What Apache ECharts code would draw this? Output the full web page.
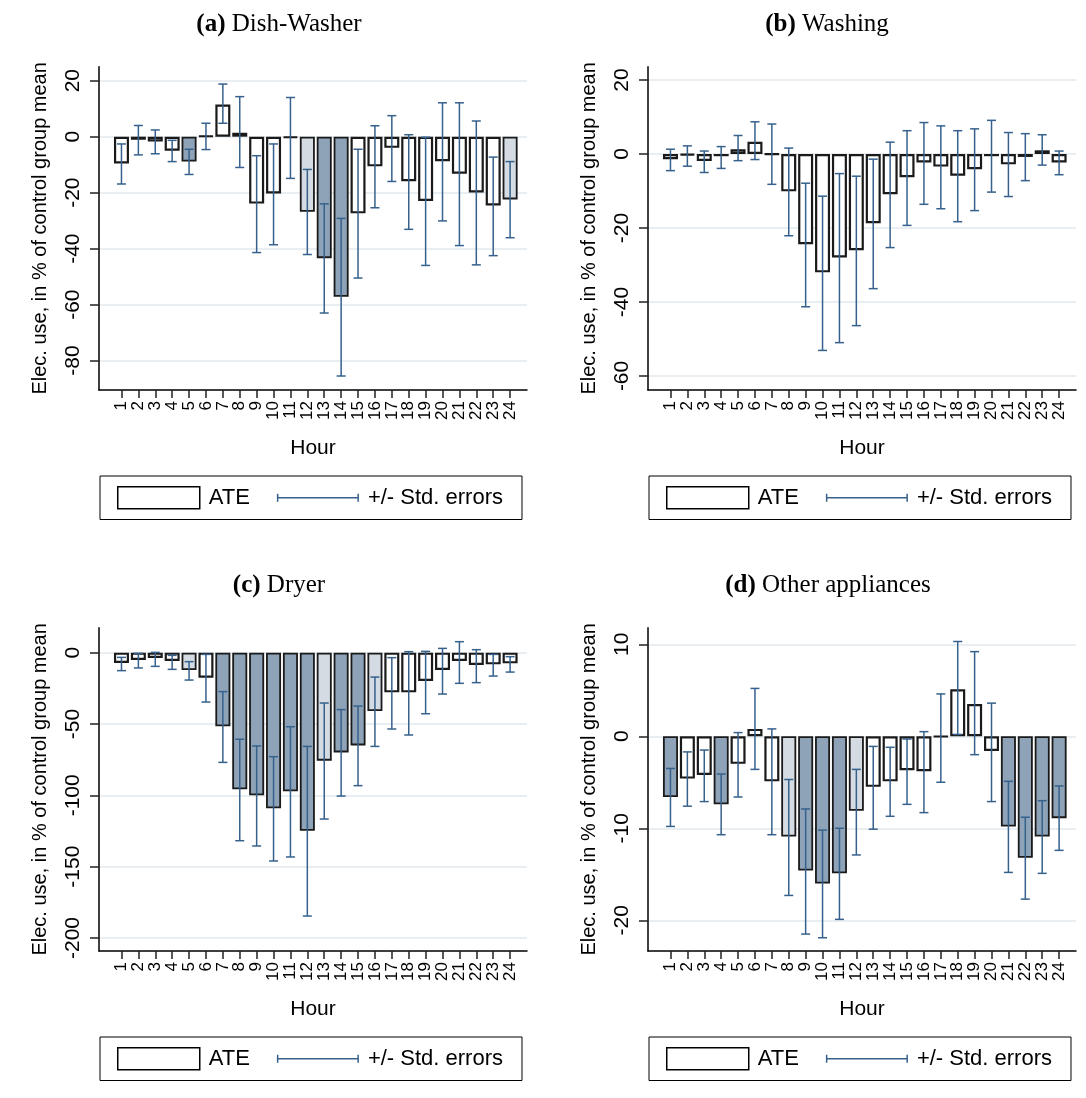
<!DOCTYPE html>
<html>
<head>
<meta charset="utf-8">
<script src="https://cdn.jsdelivr.net/npm/echarts@6/dist/echarts.min.js"></script>
<style>
html, body { margin: 0; padding: 0; background: #fff; }
#main { width: 1086px; height: 1098px; }
</style>
</head>
<body>
<div id="main"></div>
<script>
// hours on the x axis
var hours = [1, 2, 3, 4, 5, 6, 7, 8, 9, 10, 11, 12, 13, 14, 15, 16, 17, 18, 19, 20, 21, 22, 23, 24];
var panelTags = ['(a)', '(b)', '(c)', '(d)'];
var panelNames = ['Dish-Washer', 'Washing', 'Dryer', 'Other appliances'];

// (a) Dish-Washer
var ateA = [-9.6, -1.1, -1.7, -5.0, -8.9, 0.3, 11.5, 1.4, -23.9, -20.3, -0.4, -26.8, -43.4, -57.2, -27.4, -10.6, -4.0, -15.9, -23.0, -8.8, -13.2, -19.9, -24.6, -22.4];
var loA = [-16.9, -6.5, -6.1, -8.9, -13.5, -4.6, 4.8, -11.0, -41.4, -38.6, -14.9, -42.1, -63.0, -85.5, -50.5, -25.4, -16.0, -33.1, -46.0, -30.1, -38.9, -45.8, -42.5, -36.1];
var hiA = [-2.6, 4.0, 2.4, -1.3, -4.5, 4.8, 18.8, 14.3, -6.8, -2.6, 14.0, -11.7, -24.0, -29.2, -4.5, 3.9, 7.5, 0.7, -0.2, 12.1, 12.1, 5.6, -7.3, -8.9];
var sigA = [0, 0, 0, 0, 2, 0, 0, 0, 0, 0, 0, 1, 2, 2, 0, 0, 0, 0, 0, 0, 0, 0, 0, 1];
var yTicksA = [20, 0, -20, -40, -60, -80];

// (b) Washing
var ateB = [-1.4, -0.3, -1.9, -0.6, 1.3, 3.3, -0.1, -10.1, -24.4, -32.0, -28.0, -26.0, -18.7, -10.9, -6.3, -2.3, -3.4, -5.9, -4.1, -0.6, -2.8, -0.8, 1.0, -2.3];
var loB = [-4.5, -3.3, -5.0, -3.9, -1.8, -1.5, -8.2, -22.1, -41.3, -53.1, -51.0, -46.4, -36.4, -25.3, -19.3, -13.6, -14.8, -18.3, -15.3, -10.3, -11.5, -7.2, -3.0, -5.6];
var hiB = [1.3, 2.2, 0.8, 2.0, 5.0, 8.7, 8.1, 1.6, -7.9, -11.4, -5.3, -6.0, -1.4, 3.2, 6.3, 8.5, 7.6, 6.3, 6.8, 9.1, 5.8, 5.5, 5.2, 0.8];
var sigB = [0, 0, 0, 0, 0, 0, 0, 0, 0, 0, 0, 0, 0, 0, 0, 0, 0, 0, 0, 0, 0, 0, 0, 0];
var yTicksB = [20, 0, -20, -40, -60];

// (c) Dryer
var ateC = [-7.2, -5.1, -3.7, -5.8, -12.1, -17.5, -51.6, -95.8, -100.0, -109.1, -97.2, -124.8, -75.7, -69.9, -65.0, -40.9, -27.8, -27.8, -19.9, -12.1, -5.8, -8.6, -8.2, -7.5];
var loC = [-12.6, -10.7, -9.6, -11.7, -19.2, -34.6, -76.9, -131.8, -135.5, -146.0, -143.2, -184.6, -116.6, -100.5, -93.2, -65.7, -53.5, -57.7, -42.8, -29.0, -21.5, -21.0, -16.4, -13.6];
var hiC = [-3.3, -0.5, 0.2, -1.9, -6.3, -1.2, -27.3, -60.7, -65.4, -72.9, -51.9, -65.7, -35.3, -39.9, -37.4, -17.1, -3.5, 0.7, 0.9, 3.0, 7.7, 2.1, -1.2, -2.8];
var sigC = [0, 0, 0, 0, 1, 0, 2, 2, 2, 2, 2, 2, 1, 2, 2, 1, 0, 0, 0, 0, 0, 0, 0, 0];
var yTicksC = [0, -50, -100, -150, -200];

// (d) Other appliances
var ateD = [-6.6, -4.6, -4.2, -7.4, -3.0, 0.8, -4.9, -10.9, -14.6, -16.0, -14.9, -8.1, -5.5, -4.9, -3.7, -3.8, -0.05, 5.1, 3.5, -1.6, -9.8, -13.2, -10.9, -8.9];
var loD = [-9.8, -7.6, -7.1, -10.7, -6.6, -3.6, -10.7, -17.3, -21.5, -21.9, -19.9, -12.9, -10.1, -8.7, -7.4, -8.3, -5.0, 0.2, -2.0, -7.1, -14.8, -17.7, -14.9, -12.4];
var hiD = [-3.5, -1.7, -1.5, -4.1, 0.4, 5.2, 0.8, -4.7, -7.9, -10.2, -10.0, -3.6, -1.1, -1.2, -0.3, 0.5, 4.6, 10.3, 9.2, 3.6, -4.9, -8.8, -7.0, -5.4];
var sigD = [2, 0, 0, 2, 0, 0, 0, 1, 2, 2, 2, 1, 0, 0, 0, 0, 0, 0, 0, 0, 2, 2, 2, 2];
var yTicksD = [10, 0, -10, -20];

var panels = [
    {ate: ateA, lo: loA, hi: hiA, sig: sigA, ticks: yTicksA, min: -90.5, max: 25, left: 99, top: 66.7, cx: 279},
    {ate: ateB, lo: loB, hi: hiB, sig: sigB, ticks: yTicksB, min: -63.8, max: 23.6, left: 648, top: 66.7, cx: 827},
    {ate: ateC, lo: loC, hi: hiC, sig: sigC, ticks: yTicksC, min: -209.1, max: 17.5, left: 99, top: 627.7, cx: 279},
    {ate: ateD, lo: loD, hi: hiD, sig: sigD, ticks: yTicksD, min: -23.34, max: 11.8, left: 648, top: 627.7, cx: 828}
];

var FONT = 'Liberation Sans, Arial, sans-serif';
var fills = ['#ffffff', '#d4dbe3', '#8ea3b8'];
var errColor = '#36618c';
// legend glyph for the error bars: a line with end caps (corner specks fix the box size)
var errIcon = 'path://M0,0h0.01v0.01h-0.01z M81.99,21.99h0.01v0.01h-0.01z M0,7h1.5v8h-1.5z M0,10.25h82v1.5h-82z M80.5,7h1.5v8h-1.5z';

var chart = echarts.init(document.getElementById('main'));

var grids = [], xAxes = [], yAxes = [], series = [], titles = [], legends = [];

panels.forEach(function (p, i) {
    grids.push({left: p.left, top: p.top, width: 428, height: 323.3});

    xAxes.push({
        gridIndex: i, type: 'value', min: -0.33, max: 25,
        axisLine: {onZero: false, lineStyle: {color: '#000', width: 1.5}},
        axisTick: {length: 8, customValues: hours, lineStyle: {color: '#222', width: 1.5}},
        axisLabel: {customValues: hours, rotate: 90, margin: 11, fontSize: 17, fontFamily: FONT, color: '#000'},
        splitLine: {show: false},
        name: 'Hour', nameLocation: 'middle', nameGap: 48,
        nameTextStyle: {fontSize: 21, fontFamily: FONT, color: '#000'}
    });

    yAxes.push({
        gridIndex: i, type: 'value', min: p.min, max: p.max,
        axisLine: {show: true, onZero: false, lineStyle: {color: '#000', width: 1.5}},
        axisTick: {show: true, length: 9, customValues: p.ticks, lineStyle: {color: '#222', width: 1.5}},
        axisLabel: {customValues: p.ticks, rotate: 90, margin: 15, fontSize: 21, fontFamily: FONT, color: '#000'},
        splitLine: {show: true, lineStyle: {color: '#e8eef2', width: 2}},
        name: 'Elec. use, in % of control group mean', nameLocation: 'middle', nameGap: 49,
        nameTextStyle: {fontSize: 20, fontFamily: FONT, color: '#000'}
    });

    series.push({
        type: 'bar', name: 'ATE', xAxisIndex: i, yAxisIndex: i, barWidth: 15,
        itemStyle: {color: '#fff', borderColor: '#000', borderWidth: 2},
        data: hours.map(function (h, k) {
            return {
                value: [h, p.ate[k]],
                itemStyle: {color: fills[p.sig[k]], borderColor: '#1a1a1a', borderWidth: p.sig[k] ? 1.8 : 2.2}
            };
        }),
        z: 2
    });

    series.push({
        type: 'custom', name: '+/- Std. errors', xAxisIndex: i, yAxisIndex: i,
        itemStyle: {color: errColor},
        encode: {x: 0, y: [1, 2]},
        data: hours.map(function (h, k) { return [h, p.lo[k], p.hi[k]]; }),
        renderItem: function (params, api) {
            var top = api.coord([api.value(0), api.value(2)]);
            var bot = api.coord([api.value(0), api.value(1)]);
            var w = 4.5;
            var st = {stroke: errColor, lineWidth: 1.5};
            return {
                type: 'group',
                children: [
                    {type: 'line', shape: {x1: top[0], y1: top[1], x2: bot[0], y2: bot[1]}, style: st},
                    {type: 'line', shape: {x1: top[0] - w, y1: top[1], x2: top[0] + w, y2: top[1]}, style: st},
                    {type: 'line', shape: {x1: bot[0] - w, y1: bot[1], x2: bot[0] + w, y2: bot[1]}, style: st}
                ]
            };
        },
        z: 3
    });

    titles.push({
        text: '{b|' + panelTags[i] + '} ' + panelNames[i],
        left: p.cx, top: p.top - 55, textAlign: 'center', padding: 0,
        textStyle: {
            fontFamily: 'Liberation Serif, serif', fontSize: 25, fontWeight: 'normal', color: '#000',
            rich: {b: {fontFamily: 'Liberation Serif, serif', fontSize: 25, fontWeight: 'bold', color: '#000'}}
        }
    });

    legends.push({
        left: p.left + 1, top: p.top + 409.3, orient: 'horizontal', selectedMode: false,
        borderColor: '#000', borderWidth: 1, padding: [10, 19, 10, 17],
        itemGap: 27, itemWidth: 82, itemHeight: 22,
        textStyle: {fontFamily: FONT, fontSize: 22, color: '#000', padding: [0, 0, 0, 4]},
        data: [
            {name: 'ATE', icon: 'rect', itemStyle: {color: '#fff', borderColor: '#000', borderWidth: 1.5}},
            {name: '+/- Std. errors', icon: errIcon, itemStyle: {color: errColor, borderWidth: 0}}
        ]
    });
});

chart.setOption({
    animation: false,
    backgroundColor: '#fff',
    title: titles,
    legend: legends,
    grid: grids,
    xAxis: xAxes,
    yAxis: yAxes,
    series: series
});
</script>
</body>
</html>
